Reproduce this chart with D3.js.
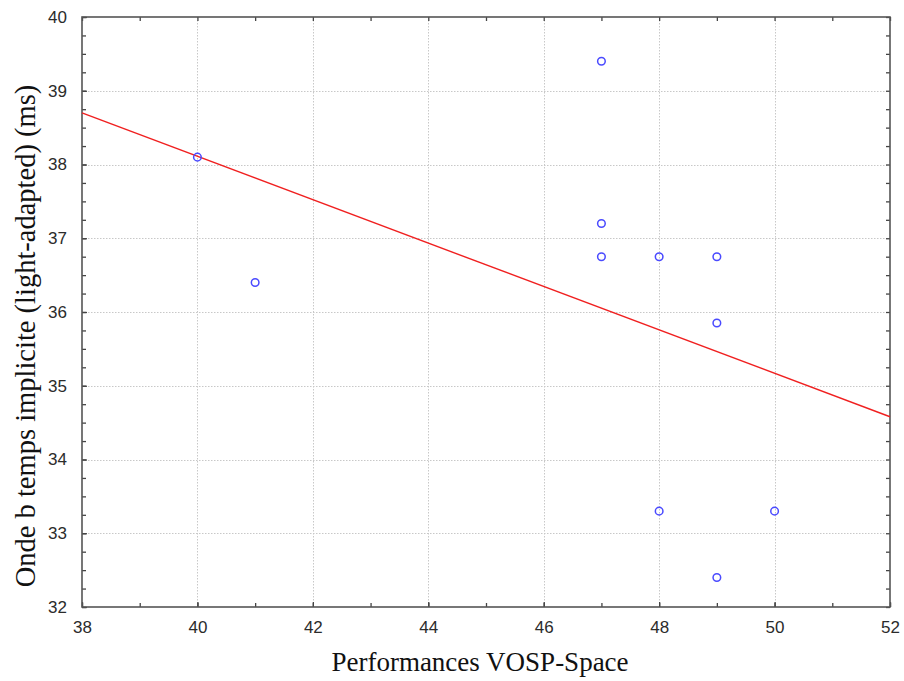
<!DOCTYPE html>
<html>
<head>
<meta charset="utf-8">
<script src="https://cdn.jsdelivr.net/npm/d3@7"></script>
<style>
  html, body { margin: 0; padding: 0; background: #fff; }
  svg { display: block; }
</style>
</head>
<body>
<svg id="chart" width="904" height="681"></svg>
<script>
// Observations: VOSP-Space score vs implicit b-wave time
const vospScores = [40, 41, 47, 47, 47, 48, 49, 49, 48, 50, 49];
const bWaveTimes = [38.1, 36.4, 39.4, 37.2, 36.75, 36.75, 36.75, 35.85, 33.3, 33.3, 32.4];

// Fitted regression line endpoints
const fitX = [38, 52];
const fitY = [38.70, 34.58];

// Axis ticks
const xTicks = [38, 40, 42, 44, 46, 48, 50, 52];
const yTicks = [32, 33, 34, 35, 36, 37, 38, 39, 40];
const xMinorTicks = d3.range(38, 52.001, 1);
const yMinorTicks = d3.range(32, 40.001, 0.25);

const xTitle = "Performances VOSP-Space";
const yTitle = "Onde b temps implicite (light-adapted) (ms)";

const svg = d3.select("#chart");
const plot = { left: 82, right: 890, top: 17, bottom: 607 };

const x = d3.scaleLinear().domain([38, 52]).range([plot.left, plot.right]);
const y = d3.scaleLinear().domain([32, 40]).range([plot.bottom, plot.top]);

// Dotted grid at major ticks
const grid = svg.append("g").attr("stroke", "#c8c8c8").attr("stroke-width", 1)
  .attr("stroke-dasharray", "1.5,1.5");
grid.selectAll(".gx").data(xTicks.slice(1, -1)).join("line")
  .attr("x1", d => Math.round(x(d)) + 0.5).attr("x2", d => Math.round(x(d)) + 0.5)
  .attr("y1", plot.top).attr("y2", plot.bottom);
grid.selectAll(".gy").data(yTicks.slice(1, -1)).join("line")
  .attr("y1", d => Math.round(y(d)) + 0.5).attr("y2", d => Math.round(y(d)) + 0.5)
  .attr("x1", plot.left).attr("x2", plot.right);

// Axes with inward ticks on all four sides
const tickColor = "#444";
function styleAxis(g) {
  g.select(".domain").remove();
  g.selectAll(".tick line").attr("stroke", tickColor).attr("stroke-width", 1.3);
}
const labelFont = "'Liberation Sans', Arial, sans-serif";

svg.append("g").attr("transform", `translate(0,${plot.bottom})`)
  .call(d3.axisBottom(x).tickValues(xMinorTicks).tickSize(-4).tickFormat(""))
  .call(styleAxis);
svg.append("g").attr("transform", `translate(0,${plot.bottom})`)
  .call(d3.axisBottom(x).tickValues(xTicks).tickSize(-5).tickPadding(14).tickFormat(d3.format("d")))
  .call(styleAxis)
  .call(g => g.selectAll("text").attr("font-family", labelFont).attr("font-size", 17).attr("fill", "#2b2b2b"));
svg.append("g").attr("transform", `translate(0,${plot.top})`)
  .call(d3.axisTop(x).tickValues(xMinorTicks).tickSize(-4).tickFormat(""))
  .call(styleAxis);

svg.append("g").attr("transform", `translate(${plot.left},0)`)
  .call(d3.axisLeft(y).tickValues(yMinorTicks).tickSize(-4).tickFormat(""))
  .call(styleAxis);
svg.append("g").attr("transform", `translate(${plot.left},0)`)
  .call(d3.axisLeft(y).tickValues(yTicks).tickSize(-5).tickPadding(15).tickFormat(d3.format("d")))
  .call(styleAxis)
  .call(g => g.selectAll("text").attr("font-family", labelFont).attr("font-size", 17).attr("fill", "#2b2b2b"));
svg.append("g").attr("transform", `translate(${plot.right},0)`)
  .call(d3.axisRight(y).tickValues(yMinorTicks).tickSize(-4).tickFormat(""))
  .call(styleAxis);

// Frame
svg.append("rect")
  .attr("x", plot.left).attr("y", plot.top)
  .attr("width", plot.right - plot.left).attr("height", plot.bottom - plot.top)
  .attr("fill", "none").attr("stroke", "#555").attr("stroke-width", 1.6);

// Regression line
const fitPts = fitX.map((v, i) => [v, fitY[i]]);
svg.append("path")
  .datum(fitPts)
  .attr("fill", "none").attr("stroke", "#f02020").attr("stroke-width", 1.4)
  .attr("d", d3.line().x(d => x(d[0])).y(d => y(d[1])));

// Scatter points
const pts = vospScores.map((v, i) => ({ x: v, y: bWaveTimes[i] }));
svg.append("g").selectAll("circle").data(pts).join("circle")
  .attr("cx", d => x(d.x)).attr("cy", d => y(d.y)).attr("r", 3.8)
  .attr("fill", "none").attr("stroke", "#4a4aff").attr("stroke-width", 1.5);

// Axis titles
const titleFont = "'Liberation Serif', 'Times New Roman', serif";
svg.append("text")
  .attr("x", 480).attr("y", 671)
  .attr("text-anchor", "middle").attr("font-family", titleFont)
  .attr("font-size", 27).attr("fill", "#111").text(xTitle);
svg.append("text")
  .attr("transform", `translate(35,336) rotate(-90)`)
  .attr("text-anchor", "middle").attr("font-family", titleFont)
  .attr("font-size", 28.5).attr("fill", "#111").text(yTitle);
</script>
</body>
</html>
